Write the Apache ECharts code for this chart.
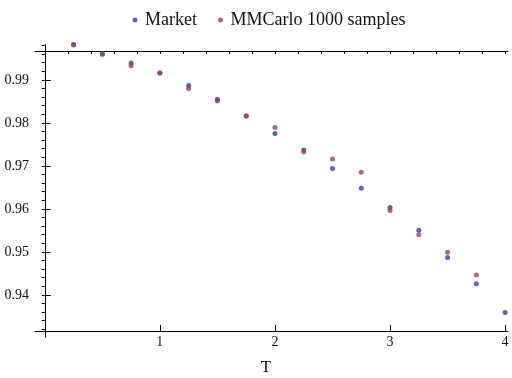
<!DOCTYPE html>
<html>
<head>
<meta charset="utf-8">
<script src="https://cdn.jsdelivr.net/npm/echarts@6/dist/echarts.min.js"></script>
<style>
  html, body { margin: 0; padding: 0; background: #fff; }
  #chart { width: 512px; height: 378px; }
</style>
</head>
<body>
<div id="chart"></div>
<script>
// Maturities (years)
const maturities = [0.25, 0.5, 0.75, 1.0, 1.25, 1.5, 1.75, 2.0, 2.25, 2.5, 2.75, 3.0, 3.25, 3.5, 3.75, 4.0];
// Discount factors quoted by the market
const marketValues = [0.9982, 0.9961, 0.9939, 0.9916, 0.9887, 0.9855, 0.9816, 0.9775,
                      0.9737, 0.9694, 0.9648, 0.9603, 0.9550, 0.9487, 0.9426, 0.9359];
// Monte Carlo estimates (1000 samples)
const mcValues = [0.9981, 0.9959, 0.9933, 0.9916, 0.9880, 0.9851, 0.9816, 0.9789,
                  0.9732, 0.9716, 0.9685, 0.9596, 0.9540, 0.9499, 0.9446, null];

const seriesNames = ['Market', 'MMCarlo 1000 samples'];
const xMajorTicks = [1, 2, 3, 4];
const yMajorTicks = [0.94, 0.95, 0.96, 0.97, 0.98, 0.99];

const xMinorTicks = [];
for (let i = 1; i <= 20; i++) xMinorTicks.push(+(i * 0.2).toFixed(1));
const yMinorTicks = [];
for (let v = 932; v <= 998; v += 2) yMinorTicks.push(v / 1000);

const FONT = 'Liberation Serif';
const TXT = '#111';

const pair = (xs, ys) => xs.map((x, i) => [x, ys[i]]).filter(p => p[1] != null);

const xBase = {
  type: 'value', min: -0.085, max: 4.025, offset: -6,
  splitLine: { show: false },
  axisLine: { lineStyle: { color: '#000', width: 1 } }
};
const yBase = {
  type: 'value', min: 0.9302, max: 0.9981,
  splitLine: { show: false },
  axisLine: { onZero: true, lineStyle: { color: '#000', width: 1 } }
};

const chart = echarts.init(document.getElementById('chart'), null, { renderer: 'canvas' });
chart.setOption({
  animation: false,
  backgroundColor: '#fff',
  color: ['#3d3d99', '#993d71'],
  legend: {
    left: 127.5, top: 6,
    icon: 'circle', itemWidth: 10, itemHeight: 5, itemGap: 21,
    textStyle: { fontFamily: FONT, fontSize: 18, color: TXT },
    data: seriesNames
  },
  grid: { left: 35, right: 4, top: 45, bottom: 41, containLabel: false, outerBoundsMode: 'none' },
  xAxis: [
    Object.assign({}, xBase, {
      name: 'T', nameLocation: 'middle', nameGap: 28,
      nameTextStyle: { fontFamily: FONT, fontSize: 17, color: TXT, padding: [0, 11, 0, 0] },
      axisTick: { inside: true, length: 6, customValues: xMajorTicks, lineStyle: { color: '#000' } },
      axisLabel: { customValues: xMajorTicks, margin: 4, fontFamily: FONT, fontSize: 14, color: TXT }
    }),
    Object.assign({}, xBase, {
      axisTick: { inside: true, length: 3, customValues: xMinorTicks, lineStyle: { color: '#000' } },
      axisLabel: { show: false }
    })
  ],
  yAxis: [
    Object.assign({}, yBase, {
      axisTick: { inside: true, length: 6, customValues: yMajorTicks, lineStyle: { color: '#000' } },
      axisLabel: { customValues: yMajorTicks, margin: 6, fontFamily: FONT, fontSize: 14, color: TXT,
                   formatter: v => v.toFixed(2) }
    }),
    Object.assign({}, yBase, {
      axisTick: { inside: true, length: 3, customValues: yMinorTicks, lineStyle: { color: '#000' } },
      axisLabel: { show: false }
    })
  ],
  series: [
    {
      name: seriesNames[0], type: 'scatter', symbol: 'circle', symbolSize: 5, clip: false,
      data: pair(maturities, marketValues)
    },
    {
      name: seriesNames[1], type: 'scatter', symbol: 'circle', symbolSize: 5, clip: false,
      data: pair(maturities, mcValues)
    }
  ]
});
</script>
</body>
</html>
